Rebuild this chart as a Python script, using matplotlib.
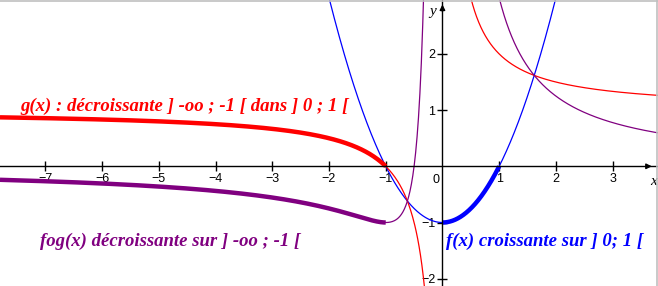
import matplotlib.pyplot as plt
import numpy as np

# visible window
x_min, x_max = -7.80, 3.80
y_min, y_max = -2.13, 2.96

x_ticks = [-7, -6, -5, -4, -3, -2, -1, 1, 2, 3]
y_ticks = [-2, -1, 1, 2]

# the three plotted functions
def f(x):
    return x ** 2 - 1

def g(x):
    return 1 + 1 / x

def fog(x):
    return f(g(x))

# domains: thin = whole curve, thick = interval named in the labels
f_thin = (-2.05, 2.05)
f_thick = (0.0, 1.0)
g_left = (-7.8, -0.30)
g_right = (0.45, 3.8)
g_thick = (-7.8, -1.0)
fog_left = (-7.8, -0.31)
fog_right = (0.9, 3.8)
fog_thick = (-7.8, -1.0)

label_g = "g(x) : décroissante ] -oo ; -1 [ dans ] 0 ; 1 ["
label_fog = "fog(x) décroissante sur ] -oo ; -1 ["
label_f = "f(x) croissante sur ] 0; 1 ["

RED = "#ff0000"
BLUE = "#0000ff"
PURPLE = "#800080"

fig = plt.figure(figsize=(6.58, 2.86), dpi=100)
ax = fig.add_axes([0, 0, 1, 1])
ax.set_xlim(x_min, x_max)
ax.set_ylim(y_min, y_max)


def span(a, b, n=600):
    return np.linspace(a, b, n)


thin = 0.9
thick = 3.2

# thin curves
xs = span(*f_thin)
ax.plot(xs, f(xs), color=BLUE, lw=thin)
for dom in (g_left, g_right):
    xs = span(*dom)
    ax.plot(xs, g(xs), color=RED, lw=thin)
for dom in (fog_left, fog_right):
    xs = span(*dom)
    ax.plot(xs, fog(xs), color=PURPLE, lw=thin)

# thick parts
xs = span(*fog_thick)
ax.plot(xs, fog(xs), color=PURPLE, lw=thick, solid_capstyle="butt")
xs = span(*g_thick)
ax.plot(xs, g(xs), color=RED, lw=thick, solid_capstyle="butt")
xs = span(*f_thick)
ax.plot(xs, f(xs), color=BLUE, lw=thick, solid_capstyle="butt")

# axes through the origin
for side in ("top", "right"):
    ax.spines[side].set_visible(False)
ax.spines["left"].set_position(("data", 0))
ax.spines["bottom"].set_position(("data", 0))
ax.spines["left"].set_linewidth(1)
ax.spines["bottom"].set_linewidth(1)

ax.set_xticks(x_ticks)
ax.set_yticks(y_ticks)
ax.set_xticklabels([f"{t}".replace("-", "\u2212") for t in x_ticks])
ax.set_yticklabels([f"{t}".replace("-", "\u2212") for t in y_ticks])
ax.tick_params(axis="both", direction="inout", length=7, width=1,
               labelsize=9, pad=1.5)
for lab in ax.get_xticklabels() + ax.get_yticklabels():
    lab.set_family("Liberation Sans")

ax.text(-0.06, -0.14, "0", ha="right", va="top", fontsize=9,
        family="Liberation Sans")

# arrow heads
ax.annotate("", xy=(3.74, 0), xytext=(3.55, 0),
            arrowprops=dict(arrowstyle="-|>", color="black", lw=1,
                            mutation_scale=8))
ax.annotate("", xy=(0, 2.93), xytext=(0, 2.7),
            arrowprops=dict(arrowstyle="-|>", color="black", lw=1,
                            mutation_scale=8))
ax.text(3.72, -0.15, "x", ha="center", va="top", fontsize=11,
        style="italic", family="Liberation Serif")
ax.text(-0.17, 2.76, "y", ha="center", va="center", fontsize=11,
        style="italic", family="Liberation Serif")

# labels
font = dict(family="Liberation Serif", fontweight="bold", style="italic",
            fontsize=13.5)
ax.text(-7.45, 1.06, label_g, color=RED, ha="left", va="center", **font)
ax.text(-7.10, -1.33, label_fog, color=PURPLE, ha="left", va="center", **font)
ax.text(0.06, -1.33, label_f, color=BLUE, ha="left", va="center", **font)

# grey frame on top and right
fig.add_artist(plt.Line2D([0, 1], [0.998, 0.998], color="#c0c0c0", lw=1.2,
                          transform=fig.transFigure))
fig.add_artist(plt.Line2D([0.9985, 0.9985], [0, 1], color="#c0c0c0", lw=1.2,
                          transform=fig.transFigure))

fig.savefig("out.png", dpi=100)
